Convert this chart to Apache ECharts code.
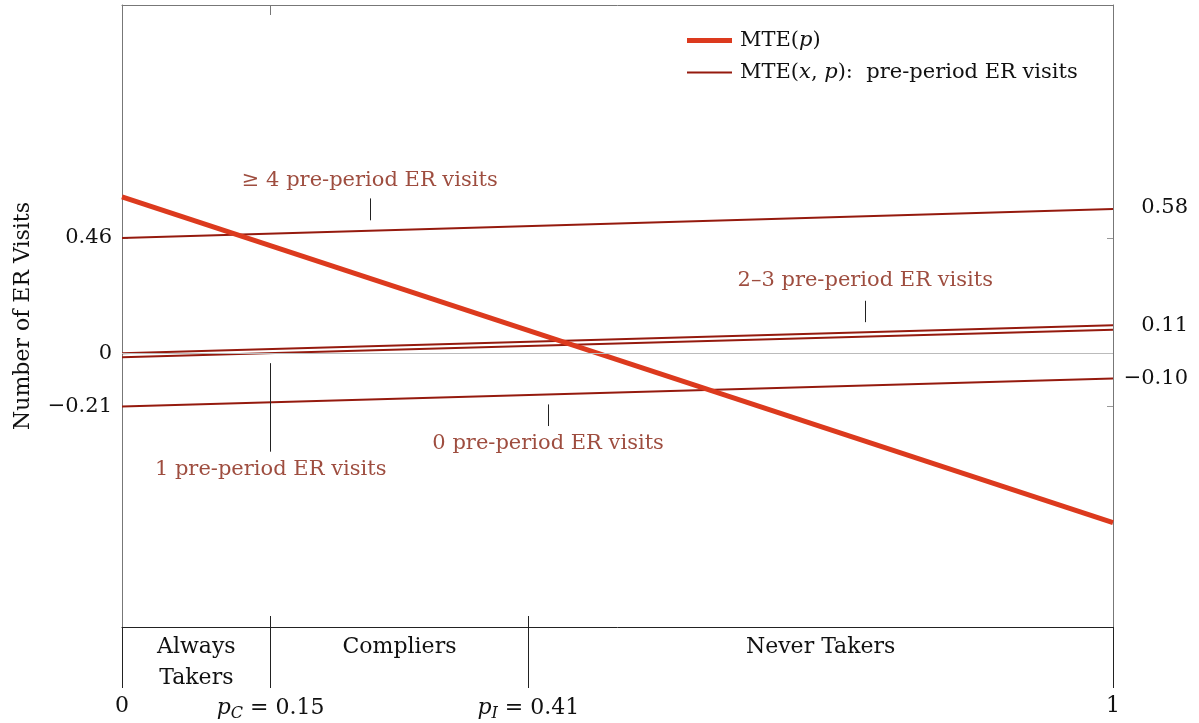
<!DOCTYPE html>
<html>
<head>
<meta charset="utf-8">
<script src="https://cdn.jsdelivr.net/npm/echarts@6/dist/echarts.min.js"></script>
<style>html,body{margin:0;padding:0;background:#fff}#c{width:1199px;height:723px}</style>
</head>
<body>
<div id="c"></div>
<script>
// ---- data ----
var pGrid = [0, 1];
var mteP = [0.623, -0.672];
var mteVisits4plus = [0.46, 0.575];
var mteVisits23 = [0.001, 0.113];
var mteVisits1 = [-0.015, 0.095];
var mteVisits0 = [-0.21, -0.099];
var leftTicks = [0.46, 0, -0.21];
var rightTickLabels = [0.58, 0.11, -0.10];
var xTicks = [0, 0.15, 0.41, 1];
var xTickLabels = ['0', '{i|p}{s|C}{n| = 0.15}', '{i|p}{s|I}{n| = 0.41}', '1'];
var groups = [
  {name: 'Always\nTakers', from: 0, to: 0.15},
  {name: 'Compliers', from: 0.15, to: 0.41},
  {name: 'Never Takers', from: 0.41, to: 1}
];
// annotation labels: [p, yText, text], pointer segments: [p, yTop, yBottom]
var annoLabels = [
  [0.25, 0.689, '≥ 4 pre-period ER visits'],
  [0.75, 0.29, '2–3 pre-period ER visits'],
  [0.43, -0.357, '0 pre-period ER visits'],
  [0.15, -0.46, '1 pre-period ER visits']
];
var annoPointers = [
  [0.25, 0.617, 0.53],
  [0.75, 0.21, 0.125],
  [0.43, -0.202, -0.288],
  [0.15, -0.038, -0.39]
];

var FONT = 'DejaVu Serif';
var FS = 21;
var THICK = '#dc3a1e', THIN = '#951a0e', ANNO = '#86200f';
function pairs(ys) { return pGrid.map(function (p, i) { return [p, ys[i]]; }); }
function fmtNum(v) { var s = String(v); if (v === -0.1) s = '-0.10'; return s.replace('-', '−'); }
var legendRich = {
  f: {fontFamily: FONT, fontSize: FS, color: '#111', padding: [0, 0, 0, 3]},
  n: {fontFamily: FONT, fontSize: FS, color: '#111'},
  i: {fontFamily: FONT, fontSize: FS, fontStyle: 'italic', color: '#111'}
};

var chart = echarts.init(document.getElementById('c'), null, {renderer: 'canvas'});
var YMIN = -1.087, YMAX = 1.386;
var option = {
  animation: false,
  textStyle: {fontFamily: FONT},
  grid: [
    {left: 122, right: 86, top: 5, height: 622},
    {left: 122, right: 86, top: 627, height: 61}
  ],
  xAxis: [
    {gridIndex: 0, type: 'value', min: 0, max: 1, position: 'bottom',
      axisLine: {show: true, onZero: false, lineStyle: {color: '#222', width: 1}},
      axisTick: {show: true, inside: true, length: 11, customValues: [0.15, 0.41], lineStyle: {color: '#222'}},
      axisLabel: {show: false}, splitLine: {show: false}},
    {gridIndex: 0, type: 'value', min: 0, max: 1, position: 'top',
      axisLine: {show: true, onZero: false, lineStyle: {color: '#777', width: 1}},
      axisTick: {show: true, inside: true, length: 10, customValues: [0.15], lineStyle: {color: '#777'}},
      axisLabel: {show: false}, splitLine: {show: false}},
    {gridIndex: 1, type: 'value', min: 0, max: 1, position: 'bottom',
      axisLine: {show: false, onZero: false}, axisTick: {show: false}, splitLine: {show: false},
      axisLabel: {show: true, customValues: xTicks, margin: 7, color: '#111', fontFamily: FONT, fontSize: 22,
        formatter: function (v) { var i = xTicks.indexOf(v); return i >= 0 ? xTickLabels[i] : ''; },
        rich: {
          i: {fontStyle: 'italic', fontFamily: FONT, fontSize: 22, lineHeight: 27, color: '#111'},
          s: {fontStyle: 'italic', fontFamily: FONT, fontSize: 16, lineHeight: 27, verticalAlign: 'bottom', color: '#111'},
          n: {fontFamily: FONT, fontSize: 22, lineHeight: 27, color: '#111'}
        }}}
  ],
  yAxis: [
    {gridIndex: 0, type: 'value', min: YMIN, max: YMAX, position: 'left',
      name: 'Number of ER Visits', nameLocation: 'middle', nameGap: 88, nameRotate: 90,
      nameTextStyle: {fontFamily: FONT, fontSize: 22, color: '#111'},
      axisLine: {show: true, onZero: false, lineStyle: {color: '#777', width: 1}},
      axisTick: {show: true, inside: true, length: 6, customValues: leftTicks, lineStyle: {color: '#999'}},
      axisLabel: {show: true, customValues: leftTicks, margin: 10, color: '#111', fontFamily: FONT, fontSize: FS,
        formatter: fmtNum},
      splitLine: {show: false}},
    {gridIndex: 0, type: 'value', min: YMIN, max: YMAX, position: 'right',
      axisLine: {show: true, onZero: false, lineStyle: {color: '#777', width: 1}},
      axisTick: {show: true, inside: true, length: 6, customValues: leftTicks, lineStyle: {color: '#999'}},
      axisLabel: {show: true, customValues: rightTickLabels, margin: 75, align: 'right', color: '#111', fontFamily: FONT, fontSize: FS,
        formatter: fmtNum},
      splitLine: {show: false}},
    {gridIndex: 1, type: 'value', min: 0, max: 1, show: false}
  ],
  legend: [
    {left: 682, top: 25, orient: 'vertical', icon: 'rect', itemWidth: 45, itemHeight: 5, itemGap: 10,
      data: ['MTE(p)'], textStyle: {fontFamily: FONT, fontSize: FS, color: '#111', rich: legendRich},
      formatter: function () { return '{f|MTE(}{i|p}{n|)}'; }},
    {left: 682, top: 57, orient: 'vertical', icon: 'rect', itemWidth: 45, itemHeight: 2, itemGap: 10,
      data: ['MTE(x,p)'], textStyle: {fontFamily: FONT, fontSize: FS, color: '#111', rich: legendRich},
      formatter: function () { return '{f|MTE(}{i|x}{n|, }{i|p}{n|):  pre-period ER visits}'; }}
  ],
  series: [
    {name: 'zero', type: 'line', xAxisIndex: 0, yAxisIndex: 0, data: [], silent: true,
      markLine: {silent: true, symbol: 'none', label: {show: false},
        lineStyle: {color: '#bbb', width: 1, type: 'solid'}, data: [{yAxis: 0}]}},
    {name: 'MTE(x,p)', type: 'line', xAxisIndex: 0, yAxisIndex: 0, data: pairs(mteVisits4plus),
      showSymbol: false, symbol: 'none', color: THIN, lineStyle: {color: THIN, width: 2}},
    {name: 'v23', type: 'line', xAxisIndex: 0, yAxisIndex: 0, data: pairs(mteVisits23),
      showSymbol: false, symbol: 'none', color: THIN, lineStyle: {color: THIN, width: 2}},
    {name: 'v1', type: 'line', xAxisIndex: 0, yAxisIndex: 0, data: pairs(mteVisits1),
      showSymbol: false, symbol: 'none', color: THIN, lineStyle: {color: THIN, width: 2}},
    {name: 'v0', type: 'line', xAxisIndex: 0, yAxisIndex: 0, data: pairs(mteVisits0),
      showSymbol: false, symbol: 'none', color: THIN, lineStyle: {color: THIN, width: 2}},
    {name: 'MTE(p)', type: 'line', xAxisIndex: 0, yAxisIndex: 0, data: pairs(mteP),
      showSymbol: false, symbol: 'none', color: THICK, lineStyle: {color: THICK, width: 5}},
    {name: 'pointers', type: 'line', xAxisIndex: 0, yAxisIndex: 0, data: [], silent: true,
      markLine: {silent: true, symbol: 'none', label: {show: false},
        lineStyle: {color: '#222', width: 1, type: 'solid'},
        data: annoPointers.map(function (a) { return [{coord: [a[0], a[1]]}, {coord: [a[0], a[2]]}]; })}},
    {name: 'annotations', type: 'scatter', xAxisIndex: 0, yAxisIndex: 0, symbolSize: 0, silent: true,
      data: annoLabels.map(function (a) { return {value: [a[0], a[1]], text: a[2]}; }),
      label: {show: true, position: 'inside', color: ANNO, fontFamily: FONT, fontSize: FS,
        formatter: function (p) { return p.data.text; }}},
    {name: 'band', type: 'line', xAxisIndex: 2, yAxisIndex: 2, data: [], silent: true,
      markLine: {silent: true, symbol: 'none', label: {show: false},
        lineStyle: {color: '#222', width: 1, type: 'solid'},
        data: xTicks.map(function (v) { return {xAxis: v}; })},
      markArea: {silent: true, itemStyle: {color: 'rgba(0,0,0,0)'},
        label: {show: true, position: 'insideTop', distance: 5, color: '#111', fontFamily: FONT, fontSize: 22, lineHeight: 31},
        data: groups.map(function (g) { return [{name: g.name, xAxis: g.from}, {xAxis: g.to}]; })}}
  ]
};
chart.setOption(option);
</script>
</body>
</html>
